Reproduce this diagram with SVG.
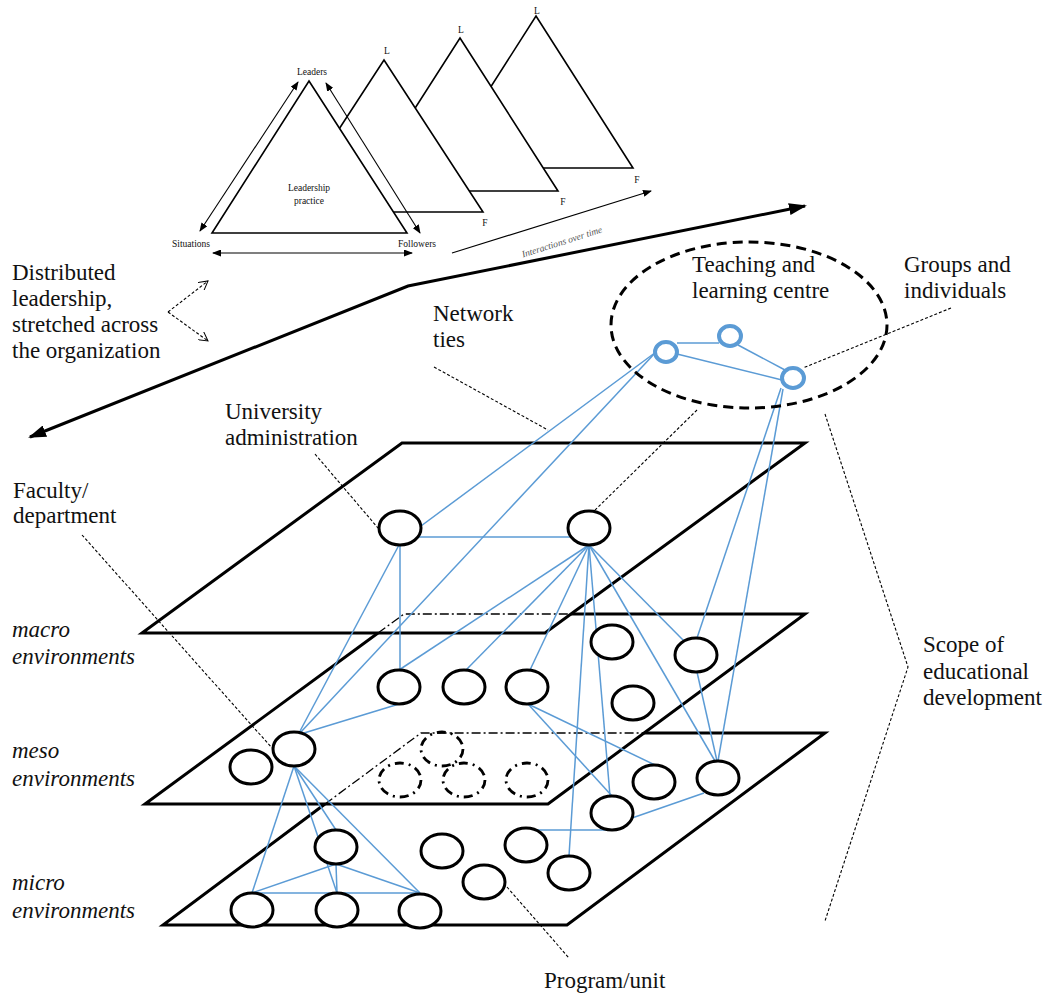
<svg xmlns="http://www.w3.org/2000/svg" width="1049" height="997" viewBox="0 0 1049 997">
<style>
text{font-family:"Liberation Serif","Times New Roman",serif;fill:#111}
.big{font-size:23px}
.it{font-style:italic}
.sm{font-size:9.5px}
.tri{fill:#fff;stroke:#000;stroke-width:1.6}
.thin{stroke:#000;stroke-width:1.1;fill:none}
.plane{fill:none;stroke:#000;stroke-width:3;stroke-linejoin:miter}
.hid{fill:none;stroke:#000;stroke-width:1.3;stroke-dasharray:9,3,2,3}
.lead{fill:none;stroke:#000;stroke-width:1.1;stroke-dasharray:3,2}
.node{fill:#fff;stroke:#000;stroke-width:3}
.dnode{fill:none;stroke:#000;stroke-width:2.8;stroke-dasharray:9,5,2,5}
.bnode{fill:#fff;stroke:#5b9bd5;stroke-width:4}
.blue{stroke:#5b9bd5;stroke-width:1.5;fill:none}
</style>
<defs>
<marker id="ah" markerUnits="userSpaceOnUse" markerWidth="9" markerHeight="7" refX="8" refY="3.5" orient="auto-start-reverse"><path d="M0,0 L9,3.5 L0,7 z" fill="#000"/></marker>
<marker id="ahb" markerUnits="userSpaceOnUse" markerWidth="18" markerHeight="12" refX="16" refY="6" orient="auto-start-reverse"><path d="M0,0 L18,6 L0,12 z" fill="#000"/></marker>
<marker id="ahv" markerUnits="userSpaceOnUse" markerWidth="10" markerHeight="10" refX="9" refY="5" orient="auto"><path d="M0,0 L9,5 L0,10" fill="none" stroke="#000" stroke-width="1"/></marker>
</defs>

<g id="leadership-triangles">
<polygon class="tri" points="536,16 633,168 439,168"/>
<polygon class="tri" points="460,38 558,191 362,191"/>
<polygon class="tri" points="384,60 483,212 285,212"/>
<polygon class="tri" points="309,81 407,233 212,233"/>
<line class="thin" x1="298" y1="82" x2="200" y2="231" marker-start="url(#ah)" marker-end="url(#ah)"/>
<line class="thin" x1="326" y1="83" x2="420" y2="233" marker-start="url(#ah)" marker-end="url(#ah)"/>
<line class="thin" x1="213" y1="253" x2="412" y2="253" marker-start="url(#ah)" marker-end="url(#ah)"/>
<line class="thin" x1="452" y1="253" x2="651" y2="191" marker-end="url(#ah)"/>
<text class="sm" x="312" y="75" text-anchor="middle">Leaders</text>
<text class="sm" x="191" y="247" text-anchor="middle">Situations</text>
<text class="sm" x="417" y="247" text-anchor="middle">Followers</text>
<text class="sm" x="309" y="191" text-anchor="middle">Leadership</text>
<text class="sm" x="309" y="204" text-anchor="middle">practice</text>
<text class="sm" x="387" y="54" text-anchor="middle">L</text>
<text class="sm" x="461" y="33" text-anchor="middle">L</text>
<text class="sm" x="537" y="14" text-anchor="middle">L</text>
<text class="sm" x="485" y="226" text-anchor="middle">F</text>
<text class="sm" x="563" y="205" text-anchor="middle">F</text>
<text class="sm" x="637" y="183" text-anchor="middle">F</text>
<text class="sm it" x="562" y="245" text-anchor="middle" style="fill:#555" transform="rotate(-17.6 562 242)">Interactions over time</text>
</g>

<g id="distributed-arrow">
<polyline points="30,437 408,286 805,206" fill="none" stroke="#000" stroke-width="3" marker-start="url(#ahb)" marker-end="url(#ahb)"/>
</g>

<g id="distributed-label">
<text class="big" x="12" y="280">Distributed</text>
<text class="big" x="12" y="306">leadership,</text>
<text class="big" x="12" y="332">stretched across</text>
<text class="big" x="12" y="358">the organization</text>
<line class="lead" x1="168" y1="312" x2="208" y2="281" marker-end="url(#ahv)"/>
<line class="lead" x1="168" y1="312" x2="208" y2="341" marker-end="url(#ahv)"/>
</g>

<g id="planes">
<polygon class="plane" points="402,443 805,443 545,633 142,633"/>
<polyline class="plane" points="378,633 145,804 548,804 805,614 571,614"/>
<polyline class="hid" points="378,633 404,614 571,614"/>
<polyline class="plane" points="325,804 163,925 567,925 825,733 644,733"/>
<polyline class="hid" points="325,804 421,733 644,733"/>
</g>

<g id="connectors">
<line class="blue" x1="677" y1="343" x2="719" y2="343"/>
<line class="blue" x1="677" y1="354" x2="782" y2="380"/>
<line class="blue" x1="738" y1="345" x2="785" y2="370"/>
<line class="blue" x1="656" y1="352" x2="421" y2="526"/>
<line class="blue" x1="656" y1="352" x2="300" y2="733"/>
<line class="blue" x1="419" y1="537" x2="570" y2="537"/>
<line class="blue" x1="400" y1="545" x2="400" y2="670"/>
<line class="blue" x1="399" y1="545" x2="299" y2="733"/>
<line class="blue" x1="589" y1="545" x2="399" y2="670"/>
<line class="blue" x1="589" y1="545" x2="466" y2="670"/>
<line class="blue" x1="589" y1="545" x2="530" y2="670"/>
<line class="blue" x1="589" y1="545" x2="569" y2="856"/>
<line class="blue" x1="589" y1="545" x2="610" y2="796"/>
<line class="blue" x1="589" y1="545" x2="715" y2="761"/>
<line class="blue" x1="589" y1="545" x2="684" y2="641"/>
<line class="blue" x1="399" y1="704" x2="304" y2="733"/>
<line class="blue" x1="294" y1="766" x2="252" y2="893"/>
<line class="blue" x1="294" y1="766" x2="337" y2="893"/>
<line class="blue" x1="294" y1="766" x2="336" y2="830"/>
<line class="blue" x1="294" y1="766" x2="420" y2="893"/>
<line class="blue" x1="336" y1="864" x2="252" y2="893"/>
<line class="blue" x1="336" y1="864" x2="337" y2="893"/>
<line class="blue" x1="336" y1="864" x2="420" y2="893"/>
<line class="blue" x1="252" y1="893" x2="420" y2="893"/>
<line class="blue" x1="528" y1="704" x2="612" y2="796"/>
<line class="blue" x1="528" y1="704" x2="655" y2="765"/>
<line class="blue" x1="632" y1="818" x2="704" y2="793"/>
<line class="blue" x1="528" y1="830" x2="612" y2="830"/>
<line class="blue" x1="781" y1="388" x2="697" y2="638"/>
<line class="blue" x1="783" y1="389" x2="718" y2="761"/>
<line class="blue" x1="697" y1="672" x2="717" y2="761"/>
</g>

<g id="leaders">
<line class="lead" x1="434" y1="367" x2="548" y2="430"/>
<line class="lead" x1="315" y1="454" x2="378" y2="528"/>
<line class="lead" x1="82" y1="535" x2="272" y2="748"/>
<line class="lead" x1="951" y1="308" x2="803" y2="368"/>
<line class="lead" x1="697" y1="410" x2="593" y2="512"/>
<line class="lead" x1="507" y1="887" x2="569" y2="958"/>
<polyline class="lead" points="825,414 908,667 825,921"/>
</g>

<g id="teaching-centre">
<ellipse cx="749" cy="325" rx="138" ry="83" fill="none" stroke="#000" stroke-width="3" stroke-dasharray="10,6"/>
<text class="big" x="692" y="272">Teaching and</text>
<text class="big" x="692" y="298">learning centre</text>
</g>
<g id="t1"><ellipse class="bnode" cx="666" cy="352" rx="11" ry="10"/></g>
<g id="t2"><ellipse class="bnode" cx="730" cy="336" rx="11" ry="10"/></g>
<g id="t3"><ellipse class="bnode" cx="793" cy="378" rx="11" ry="10"/></g>

<g id="u1"><ellipse class="node" cx="400" cy="528" rx="21" ry="17"/></g>
<g id="u2"><ellipse class="node" cx="589" cy="528" rx="21" ry="17"/></g>

<g id="m1"><ellipse class="node" cx="399" cy="687" rx="21" ry="17"/></g>
<g id="m2"><ellipse class="node" cx="464" cy="687" rx="21" ry="17"/></g>
<g id="m3"><ellipse class="node" cx="527" cy="687" rx="21" ry="17"/></g>
<g id="m4"><ellipse class="node" cx="612" cy="642" rx="21" ry="17"/></g>
<g id="m5"><ellipse class="node" cx="696" cy="655" rx="21" ry="17"/></g>
<g id="m6"><ellipse class="node" cx="633" cy="703" rx="21" ry="17"/></g>
<g id="f1"><ellipse class="node" cx="294" cy="749" rx="21" ry="17"/></g>
<g id="f2"><ellipse class="node" cx="251" cy="767" rx="21" ry="17"/></g>

<g id="d1"><ellipse class="dnode" cx="442" cy="749" rx="21" ry="17"/></g>
<g id="d2"><ellipse class="dnode" cx="400" cy="780" rx="21" ry="17"/></g>
<g id="d3"><ellipse class="dnode" cx="464" cy="780" rx="21" ry="17"/></g>
<g id="d4"><ellipse class="dnode" cx="527" cy="780" rx="21" ry="17"/></g>

<g id="r1"><ellipse class="node" cx="654" cy="782" rx="21" ry="17"/></g>
<g id="r2"><ellipse class="node" cx="718" cy="778" rx="21" ry="17"/></g>
<g id="r3"><ellipse class="node" cx="612" cy="813" rx="21" ry="17"/></g>

<g id="b1"><ellipse class="node" cx="336" cy="847" rx="21" ry="17"/></g>
<g id="b2"><ellipse class="node" cx="442" cy="851" rx="21" ry="17"/></g>
<g id="b3"><ellipse class="node" cx="526" cy="845" rx="21" ry="17"/></g>
<g id="b4"><ellipse class="node" cx="484" cy="882" rx="21" ry="17"/></g>
<g id="b5"><ellipse class="node" cx="569" cy="873" rx="21" ry="17"/></g>
<g id="b6"><ellipse class="node" cx="252" cy="910" rx="21" ry="17"/></g>
<g id="b7"><ellipse class="node" cx="337" cy="910" rx="21" ry="17"/></g>
<g id="b8"><ellipse class="node" cx="420" cy="911" rx="21" ry="17"/></g>

<g id="labels">
<text class="big" x="433" y="321">Network</text>
<text class="big" x="433" y="347">ties</text>
<text class="big" x="225" y="419">University</text>
<text class="big" x="225" y="445">administration</text>
<text class="big" x="904" y="272">Groups and</text>
<text class="big" x="904" y="298">individuals</text>
<text class="big" x="13" y="498">Faculty/</text>
<text class="big" x="13" y="523">department</text>
<text class="big it" x="12" y="637">macro</text>
<text class="big it" x="12" y="664">environments</text>
<text class="big it" x="12" y="758">meso</text>
<text class="big it" x="12" y="786">environments</text>
<text class="big it" x="12" y="890">micro</text>
<text class="big it" x="12" y="918">environments</text>
<text class="big" x="923" y="652">Scope of</text>
<text class="big" x="923" y="679">educational</text>
<text class="big" x="923" y="705">development</text>
<text class="big" x="544" y="988">Program/unit</text>
</g>
</svg>
